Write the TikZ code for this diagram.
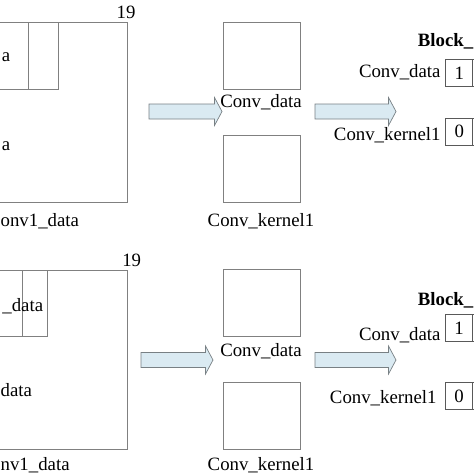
\documentclass[tikz,border=0pt]{standalone}
\usepackage{fontspec}
\setmainfont{Liberation Serif}
\usetikzlibrary{calc}
\definecolor{linegray}{RGB}{128,128,128}
\definecolor{arrowfill}{RGB}{218,234,242}
\definecolor{arrowline}{RGB}{120,128,132}
\newcommand\blockarr[2]{%
  \draw[blockarrow] ($(#1)+(0,-7.5)$) -- ($(#2)+(-7.5,-7.5)$) -- ($(#2)+(-7.5,-14)$) -- (#2)
    -- ($(#2)+(-7.5,14)$) -- ($(#2)+(-7.5,7.5)$) -- ($(#1)+(0,7.5)$) -- cycle;}
\begin{document}
\begin{tikzpicture}[x=1pt,y=-1pt,font=\fontsize{18.8}{22}\selectfont,
  grid/.style={draw=linegray,line width=0.9pt},
  box/.style={draw=linegray,line width=0.9pt,minimum width=77pt,inner sep=0pt},
  lbl/.style={inner sep=0pt},
  cell/.style={draw=black!65,line width=0.8pt,minimum size=27pt,inner sep=0pt},
  blockarrow/.style={draw=arrowline,fill=arrowfill,line width=0.7pt}]
\useasboundingbox (0,0) rectangle (474,474);
\clip (0,0) rectangle (474,474);
% ---------- top panel ----------
\draw[grid] (-60,22.7) rectangle (127.7,202);
\draw[grid] (-60,22.7) rectangle (58.3,89.3);
\draw[grid] (28,22.7) -- (28,89.3);
\node[lbl,anchor=base] (n19a) at (126,18) {19};
\node[lbl,anchor=base east] (ta1) at (10.5,61.5) {a};
\node[lbl,anchor=base east] (ta2) at (10.5,150) {a};
\node[lbl,anchor=base west] (tconv1) at (0.5,226) {onv1\_data};
\node[box,minimum height=66.6pt] (tcd) at (261.5,56) {};
\node[box,minimum height=66.7pt] (tck) at (261.5,168.7) {};
\node[lbl,anchor=base] (tcdl) at (261,107.5) {Conv\_data};
\node[lbl,anchor=base] (tckl) at (261,226) {Conv\_kernel1};
\coordinate (ta1s) at (149,111.5);
\coordinate (ta1e) at (222,111.5);
\coordinate (ta2s) at (315,111.5);
\coordinate (ta2e) at (396,111.5);
\blockarr{ta1s}{ta1e}
\blockarr{ta2s}{ta2e}
\node[lbl,anchor=base east,font=\fontsize{18.8}{22}\selectfont\bfseries] (tblk) at (473.5,46) {Block\_};
\node[cell] (tc1) at (459.2,73) {1};
\node[cell] (tc1b) at (486.2,73) {};
\node[cell] (tc0) at (459.2,131.5) {0};
\node[cell] (tc0b) at (486.2,131.5) {};
\node[lbl,anchor=base east] (trd) at (440.7,77.5) {Conv\_data};
\node[lbl,anchor=base east] (trk) at (440.7,140.5) {Conv\_kernel1};
% ---------- bottom panel ----------
\draw[grid] (-60,270) rectangle (127.7,449.3);
\draw[grid] (-60,270) rectangle (47.3,336.7);
\draw[grid] (22,270) -- (22,336.7);
\node[lbl,anchor=base] (n19b) at (131.7,266.5) {19};
\node[lbl,anchor=base east] (bd1) at (43.3,311.7) {\_data};
\node[lbl,anchor=base west] (bd2) at (0.5,396) {data};
\node[lbl,anchor=base west] (bconv1) at (0.5,470) {nv1\_data};
\node[box,minimum height=67.4pt] (bcd) at (261.5,303) {};
\node[box,minimum height=67pt] (bck) at (261.5,415.8) {};
\node[lbl,anchor=base] (bcdl) at (261,356.5) {Conv\_data};
\node[lbl,anchor=base] (bckl) at (261,470) {Conv\_kernel1};
\coordinate (ba1s) at (141,360);
\coordinate (ba1e) at (213,360);
\coordinate (ba2s) at (315,360);
\coordinate (ba2e) at (396,360);
\blockarr{ba1s}{ba1e}
\blockarr{ba2s}{ba2e}
\node[lbl,anchor=base east,font=\fontsize{18.8}{22}\selectfont\bfseries] (bblk) at (473.5,305) {Block\_};
\node[cell] (bc1) at (459,328) {1};
\node[cell] (bc1b) at (486,328) {};
\node[cell] (bc0) at (459,396) {0};
\node[cell] (bc0b) at (486,396) {};
\node[lbl,anchor=base east] (brd) at (440.7,340) {Conv\_data};
\node[lbl,anchor=base east] (brk) at (436.7,403) {Conv\_kernel1};
\end{tikzpicture}
\end{document}
